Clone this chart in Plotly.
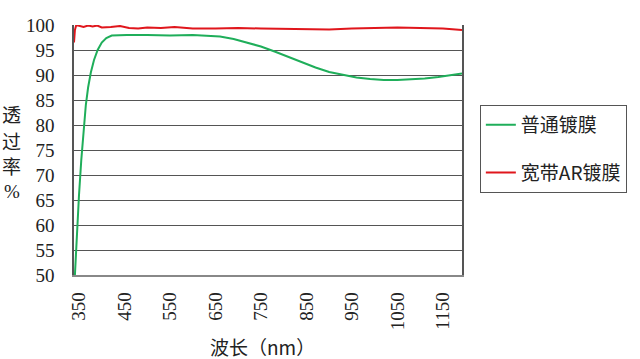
import plotly.graph_objects as go

# Data
wl_normal = [341, 345, 350, 355, 360, 365, 370, 376, 383, 391, 400, 410, 422, 437, 455, 500, 550, 600, 640, 660, 690, 720, 750, 780, 810, 840, 870, 900, 930, 960, 990, 1020, 1050, 1080, 1110, 1140, 1170, 1192]
t_normal = [50, 58, 66, 73, 79, 84, 87.5, 90.5, 93, 95, 96.5, 97.4, 97.9, 98.0, 98.0, 98.0, 97.9, 98.0, 97.9, 97.7, 97.2, 96.5, 95.7, 94.7, 93.6, 92.5, 91.5, 90.6, 90.0, 89.5, 89.2, 89.0, 89.0, 89.1, 89.3, 89.6, 90.0, 90.3]

wl_ar = [339, 341, 344, 350, 360, 370, 380, 390, 400, 420, 440, 460, 480, 500, 530, 560, 600, 650, 700, 750, 800, 850, 900, 950, 1000, 1050, 1100, 1150, 1192]
t_ar = [96.5, 99.0, 100.0, 99.9, 99.6, 99.9, 99.7, 99.9, 99.5, 99.6, 99.8, 99.4, 99.3, 99.5, 99.4, 99.6, 99.3, 99.3, 99.4, 99.3, 99.2, 99.1, 99.1, 99.3, 99.4, 99.5, 99.4, 99.3, 99.0]

x_ticks = [350, 450, 550, 650, 750, 850, 950, 1050, 1150]
y_ticks = [50, 55, 60, 65, 70, 75, 80, 85, 90, 95, 100]
y_title_chars = ["透", "过", "率", "%"]

serif = "Liberation Serif"
cjk = "Noto Sans CJK SC"

fig = go.Figure()
fig.add_trace(go.Scatter(x=wl_normal, y=t_normal, mode="lines", name="普通镀膜",
                         line=dict(color="#1fae5a", width=2), legendgroup="a"))
fig.add_trace(go.Scatter(x=wl_ar, y=t_ar, mode="lines", name="宽带AR镀膜",
                         line=dict(color="#e0161c", width=2), legendgroup="b"))

fig.update_layout(
    width=640, height=359,
    margin=dict(l=74, r=178, t=25, b=84, autoexpand=False),
    paper_bgcolor="white", plot_bgcolor="white",
    font=dict(family=serif, color="#222", size=16),
    showlegend=True,
    legend=dict(x=1.046, y=0.68, xanchor="left", yanchor="top",
                bordercolor="#555", borderwidth=1,
                font=dict(size=19, family=cjk),
                traceorder="grouped", tracegroupgap=20,
                itemwidth=30),
    xaxis=dict(range=[339, 1192], tickvals=x_ticks, ticktext=[str(v) for v in x_ticks],
               tickangle=-90, showgrid=False, zeroline=False,
               showline=True, linecolor="#888", linewidth=1.5,
               ticks="", ticklabelstandoff=8, tickfont=dict(size=19, family=serif)),
    yaxis=dict(range=[50, 100], tickvals=y_ticks, showgrid=True, gridcolor="#555", gridwidth=1.2,
               zeroline=False, showline=True, linecolor="#555", linewidth=1.5,
               mirror=True, ticks="", ticklabelstandoff=14, tickfont=dict(size=19, family=serif)),
)

# y-axis title, one character per line
y_title_pos = [0.648, 0.54, 0.44, 0.332]
for ch, yp in zip(y_title_chars, y_title_pos):
    fig.add_annotation(text=ch, xref="paper", yref="paper", x=-0.160, y=yp,
                       xanchor="center", yanchor="middle", showarrow=False,
                       font=dict(size=19, family=serif if ch == "%" else cjk))

fig.add_annotation(text="波长（nm）", xref="paper", yref="paper", x=0.485, y=-0.284,
                   xanchor="center", yanchor="middle", showarrow=False,
                   font=dict(size=19, family=cjk))

fig.write_html("out.html", config={"displayModeBar": False},
               post_script="document.body.style.margin='0';")
